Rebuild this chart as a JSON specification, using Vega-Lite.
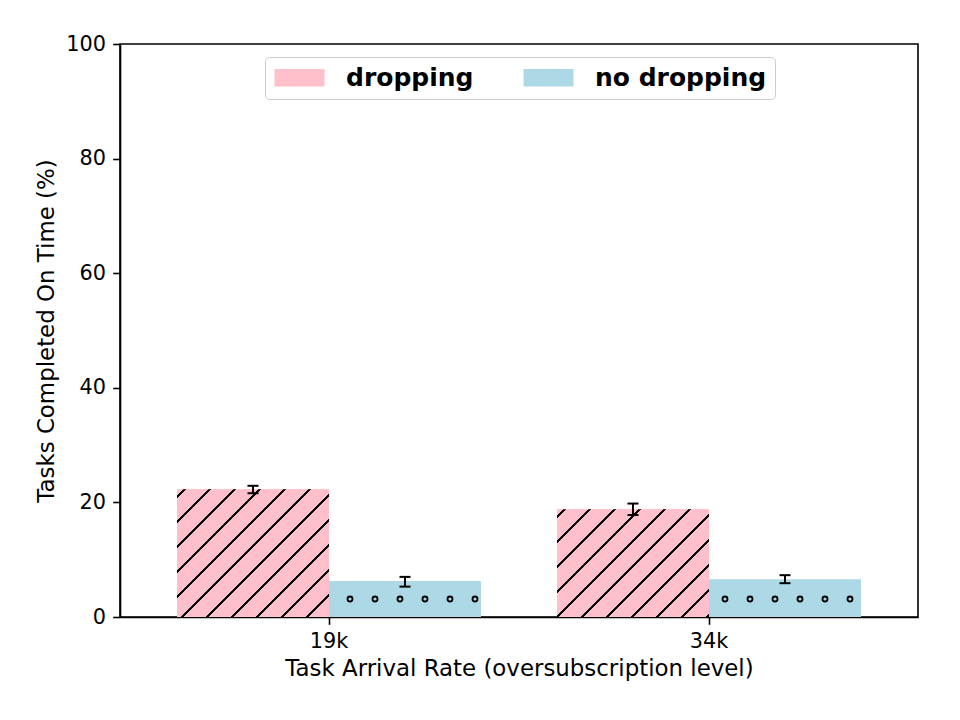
{
  "$schema": "https://vega.github.io/schema/vega-lite/v6.json",
  "width": 798,
  "height": 573,
  "autosize": {"type": "none"},
  "padding": {"left": 120, "top": 44, "right": 42, "bottom": 103},
  "background": "white",
  "config": {
    "font": "DejaVu Sans",
    "view": {"stroke": "black", "strokeWidth": 1.6},
    "axis": {
      "domainColor": "black",
      "domainWidth": 1.6,
      "tickColor": "black",
      "tickWidth": 1.6,
      "tickSize": 7.3,
      "labelColor": "black",
      "labelFont": "DejaVu Sans",
      "labelFontSize": 20.8,
      "labelPadding": 7.3,
      "titleColor": "black",
      "titleFont": "DejaVu Sans",
      "titleFontSize": 22.9,
      "titleFontWeight": "normal",
      "grid": false
    }
  },
  "data": {
    "values": [
      {"rate": "19k", "series": "dropping", "value": 22.3, "lo": 21.6, "hi": 22.9},
      {"rate": "19k", "series": "no dropping", "value": 6.3, "lo": 5.3, "hi": 7.0},
      {"rate": "34k", "series": "dropping", "value": 18.8, "lo": 17.8, "hi": 19.8},
      {"rate": "34k", "series": "no dropping", "value": 6.6, "lo": 5.9, "hi": 7.3}
    ]
  },
  "encoding": {
    "x": {
      "field": "rate",
      "type": "nominal",
      "scale": {"domain": ["19k", "34k"], "paddingInner": 0.2, "paddingOuter": 0.15},
      "axis": {"title": "Task Arrival Rate (oversubscription level)", "labelAngle": 0, "titlePadding": 6}
    },
    "xOffset": {
      "field": "series",
      "type": "nominal",
      "scale": {"domain": ["dropping", "no dropping"], "paddingInner": 0, "paddingOuter": 0}
    }
  },
  "layer": [
    {
      "mark": {"type": "bar"},
      "encoding": {
        "y": {
          "field": "value",
          "type": "quantitative",
          "scale": {"domain": [0, 100], "nice": false},
          "axis": {"title": "Tasks Completed On Time (%)", "values": [0, 20, 40, 60, 80, 100], "titlePadding": 7}
        },
        "color": {
          "field": "series",
          "type": "nominal",
          "scale": {"domain": ["dropping", "no dropping"], "range": ["#ffc0cb", "#add8e6"]},
          "legend": {
            "title": null,
            "orient": "none",
            "direction": "horizontal",
            "legendX": 145,
            "legendY": 13,
            "symbolType": "M-2.5,-0.875H2.5V0.875H-2.5Z",
            "symbolSize": 400,
            "symbolStrokeWidth": 0,
            "symbolOpacity": 1,
            "symbolOffset": 14,
            "labelFont": "DejaVu Sans",
            "labelFontSize": 25,
            "labelFontWeight": "bold",
            "labelColor": "black",
            "labelOffset": 34,
            "labelLimit": 400,
            "columnPadding": 48,
            "padding": 8,
            "fillColor": "white",
            "strokeColor": "#cccccc",
            "cornerRadius": 4
          }
        }
      }
    },
    {
      "transform": [{"filter": "datum.rate === '19k' && datum.series === 'dropping'"}],
      "mark": {
        "type": "bar",
        "fill": {
          "gradient": "linear", "x1": 0, "y1": 0, "x2": 1.0785, "y2": 0.9066,
          "stops": [
            {"offset": 0, "color": "#ffc0cb"},
            {"offset": 0.0232, "color": "#ffc0cb"}, {"offset": 0.0232, "color": "black"}, {"offset": 0.0325, "color": "black"}, {"offset": 0.0325, "color": "#ffc0cb"},
            {"offset": 0.1126, "color": "#ffc0cb"}, {"offset": 0.1126, "color": "black"}, {"offset": 0.1219, "color": "black"}, {"offset": 0.1219, "color": "#ffc0cb"},
            {"offset": 0.2019, "color": "#ffc0cb"}, {"offset": 0.2019, "color": "black"}, {"offset": 0.2112, "color": "black"}, {"offset": 0.2112, "color": "#ffc0cb"},
            {"offset": 0.2913, "color": "#ffc0cb"}, {"offset": 0.2913, "color": "black"}, {"offset": 0.3006, "color": "black"}, {"offset": 0.3006, "color": "#ffc0cb"},
            {"offset": 0.3807, "color": "#ffc0cb"}, {"offset": 0.3807, "color": "black"}, {"offset": 0.3899, "color": "black"}, {"offset": 0.3899, "color": "#ffc0cb"},
            {"offset": 0.4700, "color": "#ffc0cb"}, {"offset": 0.4700, "color": "black"}, {"offset": 0.4793, "color": "black"}, {"offset": 0.4793, "color": "#ffc0cb"},
            {"offset": 0.5594, "color": "#ffc0cb"}, {"offset": 0.5594, "color": "black"}, {"offset": 0.5687, "color": "black"}, {"offset": 0.5687, "color": "#ffc0cb"},
            {"offset": 0.6487, "color": "#ffc0cb"}, {"offset": 0.6487, "color": "black"}, {"offset": 0.6580, "color": "black"}, {"offset": 0.6580, "color": "#ffc0cb"},
            {"offset": 0.7381, "color": "#ffc0cb"}, {"offset": 0.7381, "color": "black"}, {"offset": 0.7474, "color": "black"}, {"offset": 0.7474, "color": "#ffc0cb"},
            {"offset": 0.8274, "color": "#ffc0cb"}, {"offset": 0.8274, "color": "black"}, {"offset": 0.8367, "color": "black"}, {"offset": 0.8367, "color": "#ffc0cb"},
            {"offset": 0.9168, "color": "#ffc0cb"}, {"offset": 0.9168, "color": "black"}, {"offset": 0.9261, "color": "black"}, {"offset": 0.9261, "color": "#ffc0cb"},
            {"offset": 1, "color": "#ffc0cb"}
          ]
        }
      },
      "encoding": {"y": {"field": "value", "type": "quantitative"}}
    },
    {
      "transform": [{"filter": "datum.rate === '34k' && datum.series === 'dropping'"}],
      "mark": {
        "type": "bar",
        "fill": {
          "gradient": "linear", "x1": 0, "y1": 0, "x2": 1.1374, "y2": 0.8061,
          "stops": [
            {"offset": 0, "color": "#ffc0cb"},
            {"offset": 0.0246, "color": "#ffc0cb"}, {"offset": 0.0246, "color": "black"}, {"offset": 0.0347, "color": "black"}, {"offset": 0.0347, "color": "#ffc0cb"},
            {"offset": 0.1209, "color": "#ffc0cb"}, {"offset": 0.1209, "color": "black"}, {"offset": 0.1309, "color": "black"}, {"offset": 0.1309, "color": "#ffc0cb"},
            {"offset": 0.2172, "color": "#ffc0cb"}, {"offset": 0.2172, "color": "black"}, {"offset": 0.2272, "color": "black"}, {"offset": 0.2272, "color": "#ffc0cb"},
            {"offset": 0.3134, "color": "#ffc0cb"}, {"offset": 0.3134, "color": "black"}, {"offset": 0.3234, "color": "black"}, {"offset": 0.3234, "color": "#ffc0cb"},
            {"offset": 0.4097, "color": "#ffc0cb"}, {"offset": 0.4097, "color": "black"}, {"offset": 0.4197, "color": "black"}, {"offset": 0.4197, "color": "#ffc0cb"},
            {"offset": 0.5059, "color": "#ffc0cb"}, {"offset": 0.5059, "color": "black"}, {"offset": 0.5159, "color": "black"}, {"offset": 0.5159, "color": "#ffc0cb"},
            {"offset": 0.6022, "color": "#ffc0cb"}, {"offset": 0.6022, "color": "black"}, {"offset": 0.6122, "color": "black"}, {"offset": 0.6122, "color": "#ffc0cb"},
            {"offset": 0.6984, "color": "#ffc0cb"}, {"offset": 0.6984, "color": "black"}, {"offset": 0.7085, "color": "black"}, {"offset": 0.7085, "color": "#ffc0cb"},
            {"offset": 0.7947, "color": "#ffc0cb"}, {"offset": 0.7947, "color": "black"}, {"offset": 0.8047, "color": "black"}, {"offset": 0.8047, "color": "#ffc0cb"},
            {"offset": 0.8910, "color": "#ffc0cb"}, {"offset": 0.8910, "color": "black"}, {"offset": 0.9010, "color": "black"}, {"offset": 0.9010, "color": "#ffc0cb"},
            {"offset": 0.9872, "color": "#ffc0cb"}, {"offset": 0.9872, "color": "black"}, {"offset": 0.9972, "color": "black"}, {"offset": 0.9972, "color": "#ffc0cb"},
            {"offset": 1, "color": "#ffc0cb"}
          ]
        }
      },
      "encoding": {"y": {"field": "value", "type": "quantitative"}}
    },
    {
      "transform": [{"filter": "datum.series === 'no dropping'"}],
      "mark": {"type": "point", "filled": false, "stroke": "black", "strokeWidth": 1.8, "opacity": 1, "size": 40000},
      "encoding": {
        "y": {"datum": 3.14},
        "shape": {
          "field": "rate",
          "type": "nominal",
          "legend": null,
          "scale": {
            "domain": ["19k", "34k"],
            "range": [
              "M-0.575,0A0.025,0.025,0,1,0,-0.525,0A0.025,0.025,0,1,0,-0.575,0ZM-0.325,0A0.025,0.025,0,1,0,-0.275,0A0.025,0.025,0,1,0,-0.325,0ZM-0.075,0A0.025,0.025,0,1,0,-0.025,0A0.025,0.025,0,1,0,-0.075,0ZM0.175,0A0.025,0.025,0,1,0,0.225,0A0.025,0.025,0,1,0,0.175,0ZM0.425,0A0.025,0.025,0,1,0,0.475,0A0.025,0.025,0,1,0,0.425,0ZM0.675,0A0.025,0.025,0,1,0,0.725,0A0.025,0.025,0,1,0,0.675,0Z",
              "M-0.625,0A0.025,0.025,0,1,0,-0.575,0A0.025,0.025,0,1,0,-0.625,0ZM-0.375,0A0.025,0.025,0,1,0,-0.325,0A0.025,0.025,0,1,0,-0.375,0ZM-0.125,0A0.025,0.025,0,1,0,-0.075,0A0.025,0.025,0,1,0,-0.125,0ZM0.125,0A0.025,0.025,0,1,0,0.175,0A0.025,0.025,0,1,0,0.125,0ZM0.375,0A0.025,0.025,0,1,0,0.425,0A0.025,0.025,0,1,0,0.375,0ZM0.625,0A0.025,0.025,0,1,0,0.675,0A0.025,0.025,0,1,0,0.625,0Z"
            ]
          }
        }
      }
    },
    {
      "mark": {"type": "rule", "color": "black", "strokeWidth": 2},
      "encoding": {
        "y": {"field": "lo", "type": "quantitative"},
        "y2": {"field": "hi"}
      }
    },
    {
      "mark": {"type": "tick", "color": "black", "size": 11, "thickness": 2, "opacity": 1},
      "encoding": {"y": {"field": "lo", "type": "quantitative"}}
    },
    {
      "mark": {"type": "tick", "color": "black", "size": 11, "thickness": 2, "opacity": 1},
      "encoding": {"y": {"field": "hi", "type": "quantitative"}}
    }
  ]
}
